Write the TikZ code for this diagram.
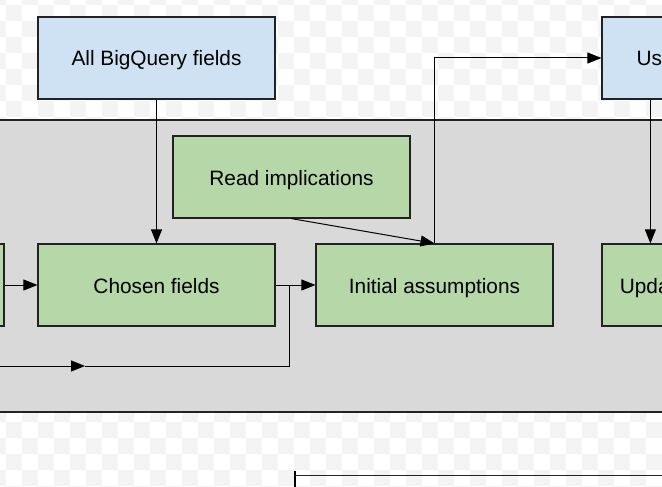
\documentclass[tikz,border=0pt]{standalone}
\usepackage{fontspec}
\setmainfont{Liberation Sans}
\usetikzlibrary{arrows.meta}
\definecolor{bluefill}{HTML}{CFE2F3}
\definecolor{greenfill}{HTML}{B6D7A8}
\definecolor{bandfill}{HTML}{D9D9D9}
\definecolor{checker}{HTML}{F4F4F4}
\definecolor{edge}{HTML}{222222}
\tikzset{
  box/.style={draw=edge, line width=1.2pt, minimum width=237pt, minimum height=82pt,
    inner sep=0pt, text height=20pt, text depth=4pt, font=\fontsize{20.8}{24}\selectfont},
  bluebox/.style={box, fill=bluefill},
  greenbox/.style={box, fill=greenfill},
  conn/.style={line width=1pt, draw=black},
  arr/.style={conn, -{Triangle[length=14pt,width=11pt]}},
}
\begin{document}
\begin{tikzpicture}[x=1pt,y=-1pt]
\useasboundingbox (0,0) rectangle (662,487);
\clip (0,0) rectangle (662,487);
% checkerboard background
\fill[white] (0,0) rectangle (662,487);
\foreach \i in {-1,...,41} {
  \foreach \j in {-1,...,30} {
    \pgfmathtruncatemacro{\myparity}{mod(\i+\j+100,2)}
    \ifnum\myparity=0
      \fill[checker] (5.5+16*\i,5.5+16*\j) rectangle ++(16,16);
    \fi
  }
}
% lane band
\draw[fill=bandfill, draw=edge, line width=1.2pt] (-10,120) rectangle (672,412);
% nodes
\node[bluebox] (allbq) at (156.5,58) {All BigQuery fields};
\node[bluebox] (us) at (720.5,58) {User observations};
\node[greenbox] (readimp) at (291.5,177) {Read implications};
\node[greenbox] (leftb) at (-114.5,285) {};
\node[greenbox] (chosen) at (156.5,285) {Chosen fields};
\node[greenbox] (init) at (434.5,285) {Initial assumptions};
\node[greenbox] (upd) at (720.5,285) {Updated assumptions};
% connectors
\draw[arr] (allbq.south) -- (chosen.north);
\draw[arr] (readimp.south) -- (init.north);
\draw[arr] (init.north) |- (us.west);
\draw[arr] ([xshift=49pt]us.south west) -- ([xshift=49pt]upd.north west);
\draw[arr] (leftb.east) -- (chosen.west);
\draw[arr] (chosen.east) -- (init.west);
\coordinate (j) at ([xshift=14pt]chosen.east);
\coordinate (s) at (-10,366);
\coordinate (m) at (85,366);
\draw[arr] (s) -- (m);
\draw[conn] (m) -| (j);
% bottom partial shape
\coordinate (b1) at (295,471);
\coordinate (b2) at (295,495);
\coordinate (b3) at (295,475);
\coordinate (b4) at (672,475);
\draw[line width=2pt] (b1) -- (b2);
\draw[conn, draw=edge] (b3) -- (b4);
\end{tikzpicture}
\end{document}
